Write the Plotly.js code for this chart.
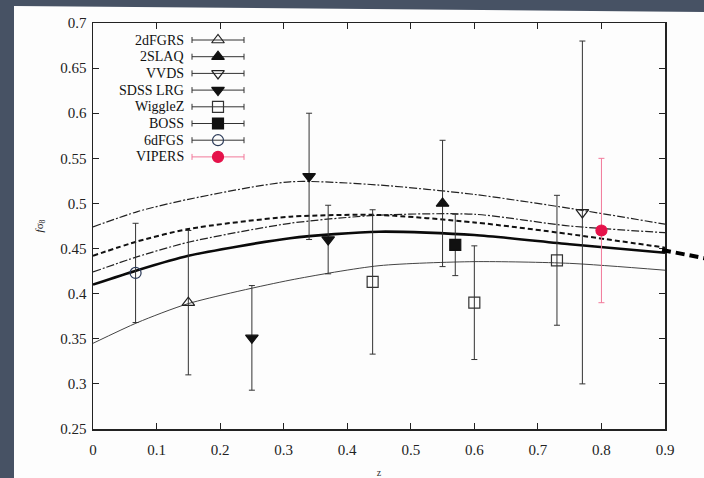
<!DOCTYPE html>
<html>
<head>
<meta charset="utf-8">
<script src="https://cdn.plot.ly/plotly-3.0.1.min.js"></script>
<style>
html,body{margin:0;padding:0;background:#475264;}
#chart{width:704px;height:478px;}
</style>
</head>
<body>
<div id="chart"></div>
<script>
// ---------- data: survey measurements ----------
const surveyNames = ["2dFGRS", "2SLAQ", "VVDS", "SDSS LRG", "WiggleZ", "BOSS", "6dFGS", "VIPERS"];
const z_2dFGRS = [0.15];            const fs8_2dFGRS = [0.39];            const err_2dFGRS = [0.08];
const z_2SLAQ = [0.55];             const fs8_2SLAQ = [0.50];             const err_2SLAQ = [0.07];
const z_VVDS = [0.77];              const fs8_VVDS = [0.49];              const err_VVDS = [0.19];
const z_SDSS = [0.25, 0.34, 0.37];  const fs8_SDSS = [0.351, 0.53, 0.46]; const err_SDSS = [0.058, 0.07, 0.038];
const z_WiggleZ = [0.44, 0.60, 0.73]; const fs8_WiggleZ = [0.413, 0.390, 0.437]; const err_WiggleZ = [0.080, 0.063, 0.072];
const z_BOSS = [0.57];              const fs8_BOSS = [0.454];             const err_BOSS = [0.034];
const z_6dFGS = [0.067];            const fs8_6dFGS = [0.423];            const err_6dFGS = [0.055];
const z_VIPERS = [0.80];            const fs8_VIPERS = [0.47];            const err_VIPERS = [0.08];

// ---------- data: model curves ----------
const zModel        = [0, 0.07, 0.15, 0.31, 0.45, 0.60, 0.75, 0.90];
const fs8_upperDD   = [0.474, 0.491, 0.5046, 0.524, 0.5204, 0.510, 0.4946, 0.477];
const fs8_dashed    = [0.442, 0.458, 0.4717, 0.4853, 0.4872, 0.479, 0.466, 0.451];
const fs8_lowerDD   = [0.424, 0.441, 0.457, 0.478, 0.487, 0.488, 0.475, 0.4676];
const fs8_thick     = [0.410, 0.426, 0.442, 0.4614, 0.4687, 0.465, 0.4547, 0.4454];
const fs8_bottom    = [0.345, 0.368, 0.389, 0.415, 0.431, 0.4355, 0.4336, 0.426];

// ---------- tick labels ----------
const xTicks = [0, 0.1, 0.2, 0.3, 0.4, 0.5, 0.6, 0.7, 0.8, 0.9];
const yTicks = [0.25, 0.3, 0.35, 0.4, 0.45, 0.5, 0.55, 0.6, 0.65, 0.7];

// ---------- styles ----------
const styles = {
  "2dFGRS":  {symbol: "triangle-up-open",   color: "#222", size: 11},
  "2SLAQ":   {symbol: "triangle-up",        color: "#111", size: 11},
  "VVDS":    {symbol: "triangle-down-open", color: "#222", size: 11},
  "SDSS LRG":{symbol: "triangle-down",      color: "#111", size: 11},
  "WiggleZ": {symbol: "square-open",        color: "#333", size: 11},
  "BOSS":    {symbol: "square",             color: "#111", size: 11},
  "6dFGS":   {symbol: "circle-open",        color: "#2b3a58", size: 11},
  "VIPERS":  {symbol: "circle",             color: "#e5124a", size: 11}
};
const barColor = {"VIPERS": "#f2799a"};

const surveyData = {
  "2dFGRS": [z_2dFGRS, fs8_2dFGRS, err_2dFGRS],
  "2SLAQ": [z_2SLAQ, fs8_2SLAQ, err_2SLAQ],
  "VVDS": [z_VVDS, fs8_VVDS, err_VVDS],
  "SDSS LRG": [z_SDSS, fs8_SDSS, err_SDSS],
  "WiggleZ": [z_WiggleZ, fs8_WiggleZ, err_WiggleZ],
  "BOSS": [z_BOSS, fs8_BOSS, err_BOSS],
  "6dFGS": [z_6dFGS, fs8_6dFGS, err_6dFGS],
  "VIPERS": [z_VIPERS, fs8_VIPERS, err_VIPERS]
};

const traces = [];
function curve(y, line) {
  traces.push({x: zModel, y: y, type: "scatter", mode: "lines",
    line: Object.assign({shape: "spline", smoothing: 0.7}, line),
    showlegend: false, hoverinfo: "skip"});
}
curve(fs8_bottom,  {color: "#444", width: 1});
curve(fs8_upperDD, {color: "#222", width: 1.2, dash: "8px,2px,2px,2px"});
curve(fs8_lowerDD, {color: "#222", width: 1.2, dash: "8px,2px,2px,2px"});
curve(fs8_dashed,  {color: "#111", width: 2, dash: "5px,3px"});
curve(fs8_thick,   {color: "#0a0a0a", width: 2.6});

surveyNames.forEach(name => {
  const d = surveyData[name], s = styles[name];
  const bc = barColor[name] || "#333";
  traces.push({
    x: d[0], y: d[1], type: "scatter", mode: "markers", name: name,
    error_y: {type: "data", array: d[2], visible: true, color: bc, thickness: 1, width: 3},
    marker: {symbol: s.symbol, color: s.color, size: s.size, line: {color: s.color, width: 1.2}},
    showlegend: false, cliponaxis: false
  });
});

// ---------- custom gnuplot-style key (pixel-space overlay axes) ----------
const keyMarkerX = 218, keyTop = 40, keyGap = 16.7, keyHalf = 26, keyTextX = 186;
const annotations = [];
surveyNames.forEach((name, i) => {
  const s = styles[name];
  const bc = barColor[name] || "#333";
  const yy = keyTop + i * keyGap;
  traces.push({
    x: [keyMarkerX], y: [yy], xaxis: "x2", yaxis: "y2", type: "scatter", mode: "markers",
    error_x: {type: "constant", value: keyHalf, visible: true, color: bc, thickness: 1, width: 3},
    marker: {symbol: s.symbol, color: s.color, size: s.size, line: {color: s.color, width: 1.2}},
    showlegend: false, cliponaxis: false, hoverinfo: "skip"
  });
  annotations.push({x: keyTextX, y: yy, xref: "x2", yref: "y2", text: name, showarrow: false,
    xanchor: "right", yanchor: "middle",
    font: {family: "Liberation Serif, serif", size: 14, color: "#111"}});
});

// panel geometry helpers (pixel -> paper)
const L = 93, R = 665, T = 23, B = 429;
const px = v => (v - L) / (R - L);
const py = v => (B - v) / (B - T);

const layout = {
  width: 704, height: 478,
  margin: {l: L, r: 704 - R, t: T, b: 478 - B},
  paper_bgcolor: "#475264",
  plot_bgcolor: "#ffffff",
  showlegend: false,
  xaxis: {
    range: [0, 0.9], tickvals: xTicks, ticktext: xTicks.map(String),
    ticks: "inside", ticklen: 6, tickcolor: "#222", tickwidth: 1,
    showline: true, linecolor: "#222", linewidth: 1.5, mirror: "ticks",
    showgrid: false, zeroline: false, ticklabelstandoff: 6,
    tickfont: {family: "Liberation Serif, serif", size: 15, color: "#222"},
    title: {text: "z", font: {family: "Liberation Serif, serif", size: 10, color: "#333"}, standoff: 14}
  },
  yaxis: {
    range: [0.25, 0.7], tickvals: yTicks, ticktext: yTicks.map(String),
    ticks: "inside", ticklen: 6, tickcolor: "#222", tickwidth: 1,
    showline: true, linecolor: "#222", linewidth: 1.5, mirror: "ticks",
    showgrid: false, zeroline: false, ticklabelstandoff: 2,
    tickfont: {family: "Liberation Serif, serif", size: 15, color: "#222"},
    title: {text: "<i>f</i>σ<sub>8</sub>", font: {family: "Liberation Serif, serif", size: 11, color: "#222"}, standoff: 14}
  },
  xaxis2: {overlaying: "x", range: [L, R], visible: false, fixedrange: true},
  yaxis2: {overlaying: "y", range: [B, T], visible: false, fixedrange: true},
  annotations: annotations,
  shapes: [
    {type: "path", xref: "paper", yref: "paper", layer: "below",
     path: `M ${px(14)},${py(6)} L ${px(704)},${py(12)} L ${px(704)},${py(478)} L ${px(14)},${py(478)} Z`,
     fillcolor: "#fdfdfd", line: {width: 0}},
    {type: "line", xref: "paper", yref: "paper",
     x0: px(662), y0: py(250), x1: px(706), y1: py(258.5),
     line: {color: "#000", width: 4, dash: "9px,5px"}}
  ]
};

Plotly.newPlot("chart", traces, layout, {displayModeBar: false, staticPlot: true});
</script>
</body>
</html>
